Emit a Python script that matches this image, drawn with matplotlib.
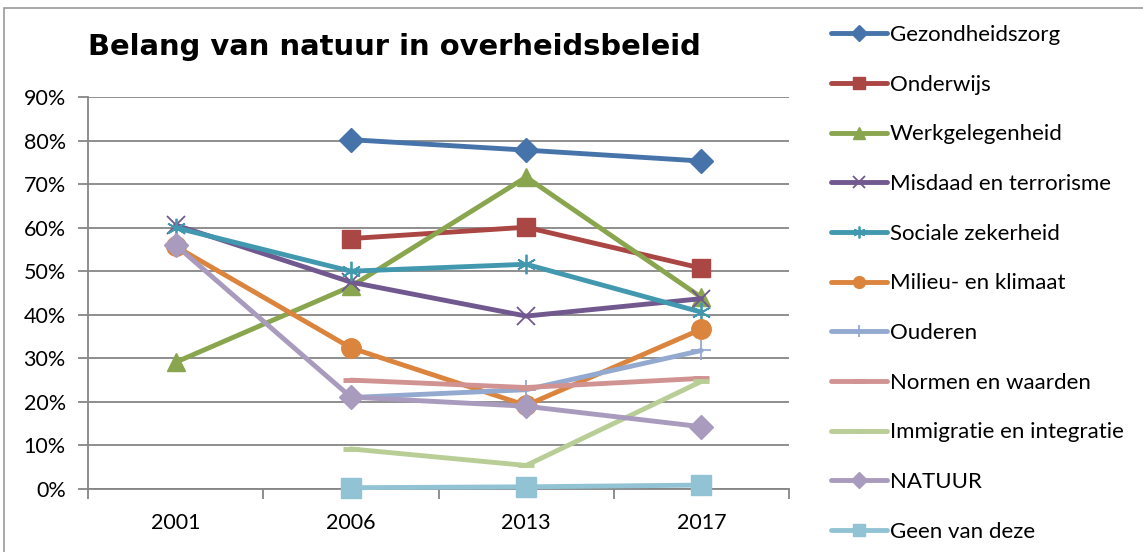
import matplotlib
matplotlib.use("Agg")
import matplotlib.pyplot as plt
from matplotlib.patches import Rectangle
from matplotlib.ticker import FixedLocator, PercentFormatter

years = ["2001", "2006", "2013", "2017"]
N = None
gezondheidszorg = [N, 0.802, 0.778, 0.753]
onderwijs = [N, 0.575, 0.601, 0.507]
werkgelegenheid = [0.291, 0.465, 0.716, 0.440]
misdaad = [0.606, 0.475, 0.397, 0.437]
sociale = [0.600, 0.500, 0.516, 0.406]
milieu = [0.557, 0.324, 0.192, 0.367]
ouderen = [N, 0.210, 0.228, 0.318]
normen = [N, 0.250, 0.233, 0.254]
immigratie = [N, 0.092, 0.054, 0.247]
natuur = [0.560, 0.211, 0.190, 0.143]
geen = [N, 0.003, 0.005, 0.009]

labels = ["Gezondheidszorg", "Onderwijs", "Werkgelegenheid", "Misdaad en terrorisme",
          "Sociale zekerheid", "Milieu- en klimaat", "Ouderen", "Normen en waarden",
          "Immigratie en integratie", "NATUUR", "Geen van deze"]
series = [gezondheidszorg, onderwijs, werkgelegenheid, misdaad, sociale, milieu,
          ouderen, normen, immigratie, natuur, geen]
colors = ["#4674AA", "#AA4643", "#89A54E", "#71588F", "#4198AF", "#DB843D",
          "#93A9CF", "#D19392", "#B9CD96", "#A99BBD", "#92C3D4"]
star = (6, 2, 0)
markers = ["D", "s", "^", "x", star, "o", "+", "_", "_", "D", "s"]
msizes = [12.5, 13, 13, 13, 14, 14, 14, 12, 12, 12.5, 14]

W, H = 1143, 552
fig = plt.figure(figsize=(W / 100, H / 100), dpi=100)
ax = fig.add_axes([88 / W, 1 - 489 / H, (789 - 88) / W, (489 - 97) / H])

txtfont = ["Lato", "DejaVu Sans"]
x = list(range(len(years)))
handles = []
for s, lab, c, m, ms in zip(series, labels, colors, markers, msizes):
    xs = [xi for xi, v in zip(x, s) if v is not None]
    ys = [v for v in s if v is not None]
    mew = 1.3 if m in ("x", "+", star) else 3.5 if m == "_" else 1
    h, = ax.plot(xs, ys, color=c, lw=3.5, marker=m, markersize=ms,
                 markerfacecolor=c, markeredgecolor=c, markeredgewidth=mew,
                 label=lab, solid_capstyle="round", zorder=3, clip_on=False)
    handles.append(h)

ax.set_xlim(-0.5, 3.5)
ax.set_ylim(0, 0.9)
ax.yaxis.set_major_locator(FixedLocator([i / 10 for i in range(10)]))
ax.yaxis.set_major_formatter(PercentFormatter(1.0, decimals=0))
ax.set_xticks(x)
ax.set_xticklabels(years)
ax.set_xticks([-0.5, 0.5, 1.5, 2.5, 3.5], minor=True)
ax.tick_params(axis="x", which="major", length=0, pad=17, labelsize=15.5, colors="black")
ax.tick_params(axis="x", which="minor", length=7, width=1.3, color="#868686", direction="out")
ax.tick_params(axis="y", which="major", length=7, width=1.3, color="#868686", pad=9,
               labelsize=15.5)
for lbl in ax.get_xticklabels() + ax.get_yticklabels():
    lbl.set_family(txtfont)
ax.grid(axis="y", color="#868686", lw=1.3, zorder=0)
for sp in ["top", "right"]:
    ax.spines[sp].set_visible(False)
for sp in ["left", "bottom"]:
    ax.spines[sp].set_color("#868686")
    ax.spines[sp].set_linewidth(1.3)
    ax.spines[sp].set_zorder(1)

fig.text(88 / W, 1 - 47 / H, "Belang van natuur in overheidsbeleid", ha="left",
         va="center", fontsize=20.9, fontweight="bold", family="DejaVu Sans")

leg = fig.legend(handles=handles, loc="upper left", bbox_to_anchor=(831 / W, 1 - 25 / H),
                 frameon=False, prop={"family": txtfont, "size": 16},
                 handlelength=2.52, handletextpad=0.14, labelspacing=1.335,
                 borderaxespad=0, borderpad=0)
for lh in leg.legend_handles:
    lh.set_markersize(8.5)

fig.add_artist(Rectangle((4 / W, -0.05), 1.2, 1 - 8 / H + 0.05, transform=fig.transFigure,
                         fill=False, edgecolor="#9A9A9A", lw=1.2))

fig.savefig("out.png", dpi=100)
